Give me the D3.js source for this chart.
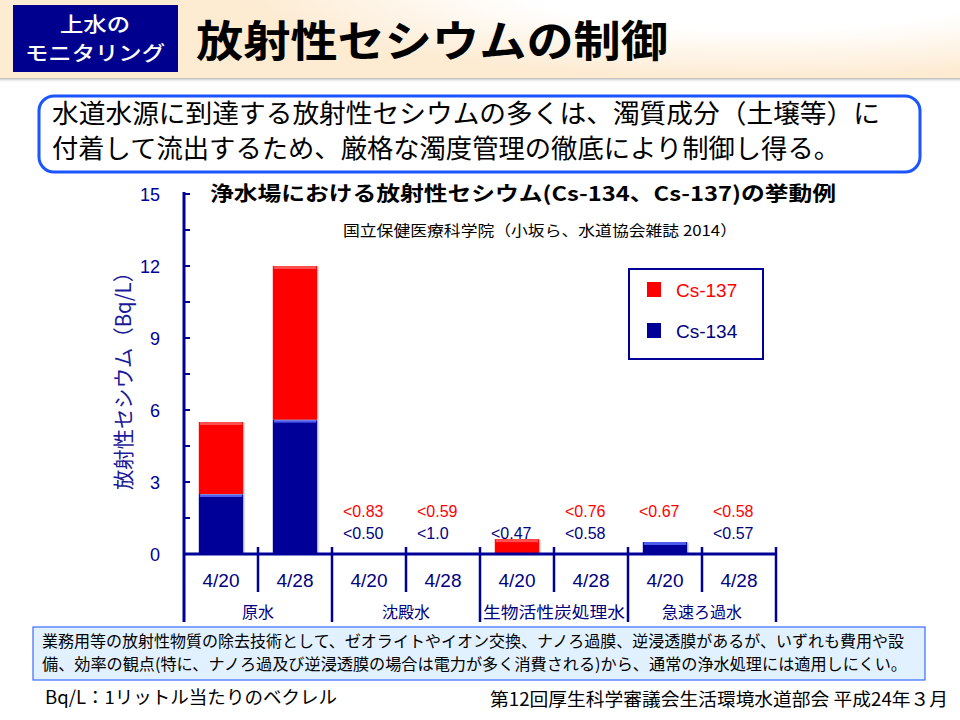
<!DOCTYPE html>
<html><head><meta charset="utf-8">
<script src="https://cdn.jsdelivr.net/npm/d3@7"></script>
<style>body{margin:0;background:#fff}svg{display:block}</style>
</head><body>
<svg id="c" width="960" height="720"></svg>
<script>
const dates = ["4/20","4/28","4/20","4/28","4/20","4/28","4/20","4/28"];
const groups = ["原水","沈殿水","生物活性炭処理水","急速ろ過水"];
const cs134 = [2.5, 5.6, 0, 0, 0, 0, 0.5, 0];
const cs137 = [3.0, 6.4, 0, 0, 0.62, 0, 0, 0];
const labels137 = ["","","<0.83","<0.59","","<0.76","<0.67","<0.58"];
const labels134 = ["","","<0.50","<1.0","<0.47","<0.58","","<0.57"];
const yTicks = [0,3,6,9,12,15];
const seriesNames = ["Cs-137","Cs-134"];

const svg = d3.select("#c");
const JP = "'Noto Sans CJK JP','Noto Sans',sans-serif";
const LS = "'Liberation Sans',Arial,sans-serif";
const defs = svg.append("defs");

// header background
const rg = defs.append("radialGradient").attr("id","hg").attr("gradientUnits","userSpaceOnUse")
  .attr("cx",760).attr("cy",-10).attr("r",520)
  .attr("gradientTransform","translate(760,-10) scale(1,0.17) translate(-760,10)");
rg.append("stop").attr("offset",0).attr("stop-color","#ffffff");
rg.append("stop").attr("offset",0.45).attr("stop-color","#ffffff");
rg.append("stop").attr("offset",1).attr("stop-color","#fdebd2");
const sh = defs.append("linearGradient").attr("id","sh").attr("x1",0).attr("y1",0).attr("x2",0).attr("y2",1);
sh.append("stop").attr("offset",0).attr("stop-color","#888").attr("stop-opacity",0.9);
sh.append("stop").attr("offset",1).attr("stop-color","#fff").attr("stop-opacity",0);
svg.append("rect").attr("x",0).attr("y",77).attr("width",960).attr("height",6).attr("fill","url(#sh)");
svg.append("rect").attr("x",0).attr("y",0).attr("width",960).attr("height",78).attr("fill","#fdebd2");
svg.append("rect").attr("x",0).attr("y",0).attr("width",960).attr("height",78).attr("fill","url(#hg)");
svg.append("rect").attr("x",13).attr("y",5).attr("width",165).attr("height",67).attr("fill","#00008f");
svg.append("text").attr("x",95).attr("y",32).attr("text-anchor","middle").attr("fill","#fff")
  .style("font-family",JP).style("font-size","20px").style("font-weight","500")
  .attr("textLength",70).attr("lengthAdjust","spacingAndGlyphs").text("上水の");
svg.append("text").attr("x",95).attr("y",61).attr("text-anchor","middle").attr("fill","#fff")
  .style("font-family",JP).style("font-size","20px").style("font-weight","500")
  .attr("textLength",140).attr("lengthAdjust","spacingAndGlyphs").text("モニタリング");
svg.append("text").attr("x",196).attr("y",57).attr("fill","#000")
  .style("font-family",JP).style("font-size","43px").style("font-weight","bold")
  .attr("textLength",472).attr("lengthAdjust","spacingAndGlyphs").text("放射性セシウムの制御");

// message box
svg.append("rect").attr("x",39).attr("y",96).attr("width",881).attr("height",76).attr("rx",15)
  .attr("fill","#fff").attr("stroke","#1a55ff").attr("stroke-width",3);
svg.append("text").attr("x",52).attr("y",123).style("font-family",JP).style("font-size","26px")
  .attr("textLength",828).attr("lengthAdjust","spacingAndGlyphs")
  .text("水道水源に到達する放射性セシウムの多くは、濁質成分（土壌等）に");
svg.append("text").attr("x",52).attr("y",158).style("font-family",JP).style("font-size","26px")
  .attr("textLength",788).attr("lengthAdjust","spacingAndGlyphs")
  .text("付着して流出するため、厳格な濁度管理の徹底により制御し得る。");

// chart title
svg.append("text").attr("x",210).attr("y",201).style("font-family",JP).style("font-size","20px").style("font-weight","bold")
  .attr("textLength",626).attr("lengthAdjust","spacingAndGlyphs")
  .text("浄水場における放射性セシウム(Cs-134、Cs-137)の挙動例");
svg.append("text").attr("x",343).attr("y",236).style("font-family",JP).style("font-size","15px")
  .attr("textLength",394).attr("lengthAdjust","spacingAndGlyphs")
  .text("国立保健医療科学院（小坂ら、水道協会雑誌 2014）");

// scales
const x = d3.scaleBand().domain(d3.range(dates.length)).range([184,776]).paddingInner(0.4).paddingOuter(0.2);
const y = d3.scaleLinear().domain([0,15]).range([554,194]);
const blue = "#000099", red = "#ff0000", axisC = "#000099";

// bars
const g = svg.append("g");
dates.forEach((d,i)=>{
  const segs = [{v0:0,v1:cs134[i],c:blue,hl:"#4f5cf0"},{v0:cs134[i],v1:cs134[i]+cs137[i],c:red,hl:"#ff5050"}];
  segs.forEach(s=>{
    if(s.v1-s.v0<=0) return;
    const top=y(s.v1), h=y(s.v0)-y(s.v1);
    g.append("rect").attr("x",x(i)+2).attr("y",top+1).attr("width",x.bandwidth()).attr("height",h)
      .attr("fill","#bbb").attr("opacity",0.5);
    g.append("rect").attr("x",x(i)).attr("y",top).attr("width",x.bandwidth()).attr("height",h).attr("fill",s.c);
    g.append("rect").attr("x",x(i)+1).attr("y",top).attr("width",x.bandwidth()-2).attr("height",Math.min(3,h)).attr("fill",s.hl);
  });
});

// value labels
dates.forEach((d,i)=>{
  const cx = x(i)+x.bandwidth()/2;
  if(labels137[i]) svg.append("text").attr("x",cx-26).attr("y",517).attr("fill",red)
    .style("font-family",LS).style("font-size","16px").text(labels137[i]);
  if(labels134[i]) svg.append("text").attr("x",cx-26).attr("y",539).attr("fill","#000080")
    .style("font-family",LS).style("font-size","16px").text(labels134[i]);
});

// y axis
const ya = svg.append("g");
ya.append("line").attr("x1",184).attr("x2",184).attr("y1",y(15)-2).attr("y2",622).attr("stroke",axisC).attr("stroke-width",3);
d3.range(0,15.01,1.5).forEach(v=>{
  ya.append("line").attr("x1",184).attr("x2",190).attr("y1",y(v)).attr("y2",y(v)).attr("stroke",axisC).attr("stroke-width",2);
});
yTicks.forEach(v=>{
  ya.append("text").attr("x",160).attr("y",y(v)+7).attr("text-anchor","end").attr("fill","#000099")
    .style("font-family",LS).style("font-size","18px").text(v);
});
svg.append("text").attr("transform","translate(131,376) rotate(-90)").attr("text-anchor","middle")
  .attr("fill","#1a1a99").style("font-family",JP).style("font-size","21px")
  .attr("textLength",228).attr("lengthAdjust","spacingAndGlyphs").text("放射性セシウム（Bq/L）");

// x axis
const xa = svg.append("g");
xa.append("line").attr("x1",184).attr("x2",776).attr("y1",554).attr("y2",554).attr("stroke",axisC).attr("stroke-width",3);
const step = x.step();
d3.range(1,dates.length+1).forEach(k=>{
  const xx = 184 + k*step;
  const isGroup = k%2===0;
  xa.append("line").attr("x1",xx).attr("x2",xx).attr("y1",547).attr("y2",isGroup?622:592)
    .attr("stroke",axisC).attr("stroke-width",2.5);
});
dates.forEach((d,i)=>{
  xa.append("text").attr("x",x(i)+x.bandwidth()/2).attr("y",587).attr("text-anchor","middle").attr("fill","#000080")
    .style("font-family",LS).style("font-size","19px").text(d);
});
groups.forEach((gname,j)=>{
  const cx = 184 + (2*j+1)*step;
  const t = xa.append("text").attr("x",cx).attr("y",618).attr("text-anchor","middle").attr("fill","#000080")
    .style("font-family",JP).style("font-size","16px").text(gname);
  if(gname.length>=8) t.attr("textLength",142).attr("lengthAdjust","spacingAndGlyphs");
});

// legend
const lg = svg.append("g");
lg.append("rect").attr("x",629).attr("y",269).attr("width",134).attr("height",90).attr("fill","#fff")
  .attr("stroke","#000099").attr("stroke-width",2);
[[red,"#ff0000",282],[blue,"#000080",323]].forEach((r,k)=>{
  lg.append("rect").attr("x",647).attr("y",r[2]).attr("width",14).attr("height",15).attr("fill",r[0]);
  lg.append("text").attr("x",676).attr("y",r[2]+15).attr("fill",r[1])
    .style("font-family",LS).style("font-size","19px").text(seriesNames[k]);
});

// bottom note box
svg.append("rect").attr("x",33).attr("y",627).attr("width",892).attr("height",53)
  .attr("fill","#e2f1ff").attr("stroke","#3a6cff").attr("stroke-width",1.2);
svg.append("text").attr("x",42).attr("y",647).style("font-family",JP).style("font-size","16px")
  .attr("textLength",862).attr("lengthAdjust","spacingAndGlyphs")
  .text("業務用等の放射性物質の除去技術として、ゼオライトやイオン交換、ナノろ過膜、逆浸透膜があるが、いずれも費用や設");
svg.append("text").attr("x",42).attr("y",670).style("font-family",JP).style("font-size","16px")
  .attr("textLength",865).attr("lengthAdjust","spacingAndGlyphs")
  .text("備、効率の観点(特に、ナノろ過及び逆浸透膜の場合は電力が多く消費される)から、通常の浄水処理には適用しにくい。");
svg.append("text").attr("x",45).attr("y",704).style("font-family",JP).style("font-size","18px")
  .attr("textLength",292).attr("lengthAdjust","spacingAndGlyphs").text("Bq/L：1リットル当たりのベクレル");
svg.append("text").attr("x",490).attr("y",706).style("font-family",JP).style("font-size","18px")
  .attr("textLength",458).attr("lengthAdjust","spacingAndGlyphs").text("第12回厚生科学審議会生活環境水道部会 平成24年３月");
</script>
</body></html>
